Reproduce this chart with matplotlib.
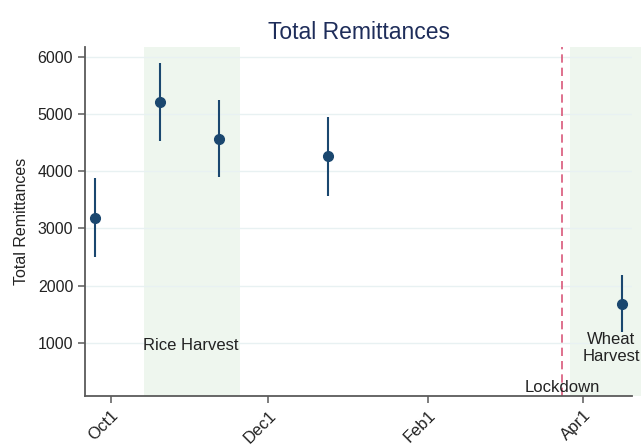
import datetime as dt
import matplotlib
matplotlib.use("Agg")
import matplotlib.pyplot as plt
import matplotlib.dates as mdates

plt.rcParams['font.family'] = ['Liberation Sans', 'DejaVu Sans']

# survey rounds (estimates with 95% CI)
dates = [dt.date(2019, 9, 25), dt.date(2019, 10, 20), dt.date(2019, 11, 12),
         dt.date(2019, 12, 24), dt.date(2020, 4, 16)]
estimate = [3185, 5215, 4575, 4265, 1685]
ci_low = [2495, 4530, 3905, 3570, 1180]
ci_high = [3890, 5900, 5250, 4955, 2185]

rice_harvest = (dt.date(2019, 10, 14), dt.date(2019, 11, 20))
wheat_harvest = (dt.date(2020, 3, 27), dt.date(2020, 4, 30))
lockdown = dt.date(2020, 3, 24)

tick_dates = [dt.date(2019, 10, 1), dt.date(2019, 12, 1),
              dt.date(2020, 2, 1), dt.date(2020, 4, 1)]
tick_labels = ["Oct1", "Dec1", "Feb1", "Apr1"]
y_ticks = [1000, 2000, 3000, 4000, 5000, 6000]

navy = "#1a476f"
green = "#eef6ee"

fig = plt.figure(figsize=(6.41, 4.45), dpi=100)
ax = fig.add_axes([0.1326, 0.110, 0.8534, 0.784])

x = mdates.date2num(dates)
xs = mdates.date2num

ax.axvspan(xs(rice_harvest[0]), xs(rice_harvest[1]), color=green, lw=0, zorder=0)
ax.axvspan(xs(wheat_harvest[0]), xs(wheat_harvest[1]), color=green, lw=0,
           zorder=0, clip_on=False)

for yt in y_ticks:
    ax.axhline(yt, color="#e8f1f2", lw=1, zorder=1)

ax.axvline(xs(lockdown), color="#d9587a", lw=1.2, ls=(0, (5, 3)), zorder=2)

yerr = [[e - l for e, l in zip(estimate, ci_low)],
        [h - e for e, h in zip(estimate, ci_high)]]
ax.errorbar(x, estimate, yerr=yerr, fmt="o", color=navy, ms=7,
            elinewidth=1.5, capsize=0, zorder=3)

ax.text(xs(dt.date(2019, 11, 1)), 945, "Rice Harvest", ha="center",
        va="center", fontsize=12, color="#222222")
ax.text(xs(dt.date(2020, 4, 12)), 905, "Wheat\nHarvest", ha="center",
        va="center", fontsize=12, color="#222222", linespacing=1.1, zorder=4)
ax.text(xs(lockdown), 215, "Lockdown", ha="center", va="center",
        fontsize=12, color="#222222")

ax.set_xlim(xs(dt.date(2019, 9, 21)), xs(dt.date(2020, 4, 20)))
ax.set_ylim(65, 6175)
ax.set_yticks(y_ticks)
ax.set_xticks(xs(tick_dates))
ax.set_xticklabels(tick_labels, rotation=45, ha="right", rotation_mode="anchor")

for side in ["top", "right"]:
    ax.spines[side].set_visible(False)
for side in ["left", "bottom"]:
    ax.spines[side].set_color("#5a5a5a")
    ax.spines[side].set_linewidth(1.3)
ax.tick_params(axis="both", length=5, width=1.1, color="#5a5a5a",
               labelsize=11.5, labelcolor="#222222")
ax.tick_params(axis="x", labelsize=12)

ax.set_ylabel("Total Remittances", fontsize=11.5, color="#222222", labelpad=6)
ax.set_title("Total Remittances", fontsize=16.5, color="#1e2d5a", pad=6)

fig.savefig("out.png", dpi=100)
